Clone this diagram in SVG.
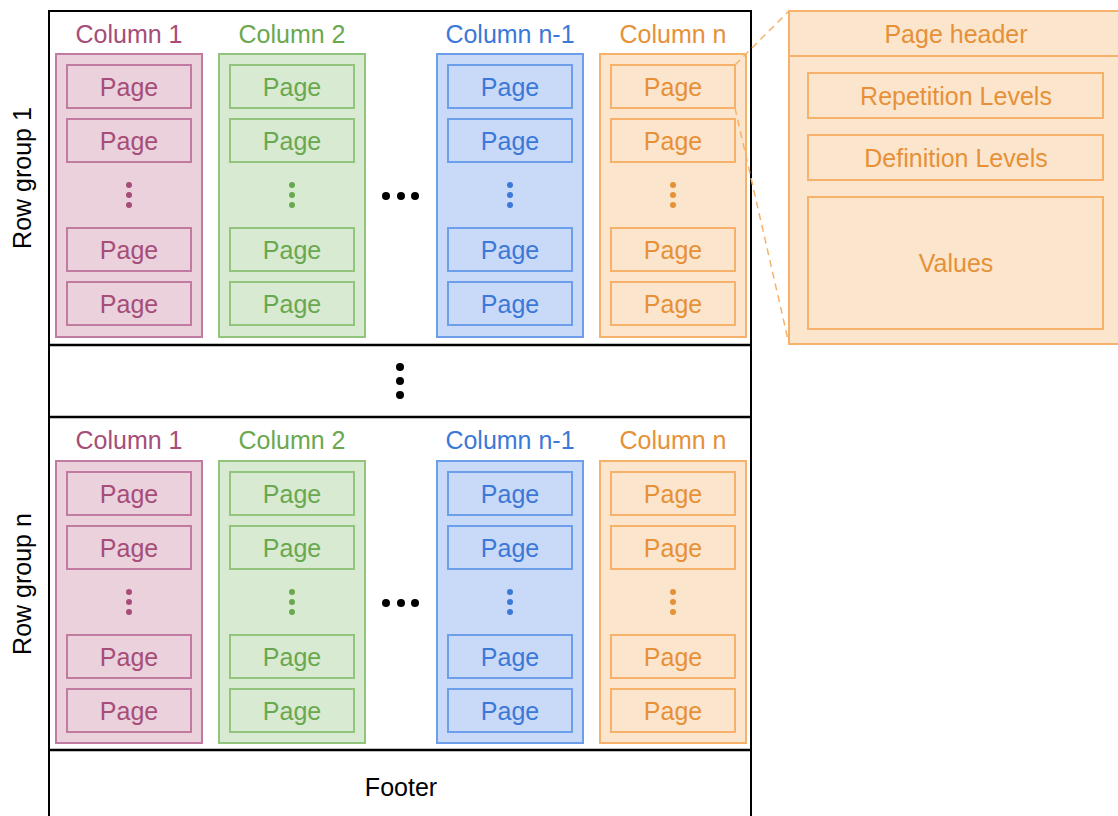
<svg xmlns="http://www.w3.org/2000/svg" width="1118" height="816" viewBox="0 0 1118 816">
  <style>
    text { font-family: "Liberation Sans", Arial, sans-serif; font-size: 25px; text-anchor: middle; }
    .frame { fill: #ffffff; stroke: #000000; stroke-width: 2; }
    .sep { stroke: #000000; stroke-width: 2.5; }
    .blk { fill: #000000; }
    .c1 .col, .c1 .pg { fill: #ead1dc; stroke: #c27ba0; stroke-width: 2; }
    .c1 text, .c1 circle { fill: #a64d79; }
    .c2 .col, .c2 .pg { fill: #d9ead3; stroke: #93c47d; stroke-width: 2; }
    .c2 text, .c2 circle { fill: #6aa84f; }
    .c3 .col, .c3 .pg { fill: #c9daf8; stroke: #6d9eeb; stroke-width: 2; }
    .c3 text, .c3 circle { fill: #3c78d8; }
    .c4 .col, .c4 .pg, .detail rect { fill: #fce5cd; stroke: #f6b26b; stroke-width: 2; }
    .c4 text, .c4 circle, .detail text { fill: #e69138; }
    .detail line { stroke: #f6b26b; stroke-width: 2; }
    .zoom { stroke: #f6b26b; stroke-width: 1.5; stroke-dasharray: 7 5; fill: none; }
  </style>

  <!-- file frame and section separators -->
  <g id="file">
    <rect class="frame" x="49" y="11" width="702" height="820"/>
    <line class="sep" x1="49" y1="345" x2="751" y2="345"/>
    <line class="sep" x1="49" y1="417" x2="751" y2="417"/>
    <line class="sep" x1="49" y1="750" x2="751" y2="750"/>
  </g>

  <!-- row group 1 -->
  <g id="rowgroup-1">
    <text class="blk" transform="translate(31 178) rotate(-90)">Row group 1</text>
    <g id="rg1-col1" class="c1">
      <text x="129" y="43">Column 1</text>
      <rect class="col" x="56" y="54" width="146" height="283"/>
      <rect class="pg" x="67" y="65" width="124" height="43"/><text x="129" y="96">Page</text>
      <rect class="pg" x="67" y="119" width="124" height="43"/><text x="129" y="150">Page</text>
      <circle cx="129" cy="185" r="3"/><circle cx="129" cy="195" r="3"/><circle cx="129" cy="205" r="3"/>
      <rect class="pg" x="67" y="228" width="124" height="43"/><text x="129" y="259">Page</text>
      <rect class="pg" x="67" y="282" width="124" height="43"/><text x="129" y="313">Page</text>
    </g>
    <g id="rg1-col2" class="c2">
      <text x="292" y="43">Column 2</text>
      <rect class="col" x="219" y="54" width="146" height="283"/>
      <rect class="pg" x="230" y="65" width="124" height="43"/><text x="292" y="96">Page</text>
      <rect class="pg" x="230" y="119" width="124" height="43"/><text x="292" y="150">Page</text>
      <circle cx="292" cy="185" r="3"/><circle cx="292" cy="195" r="3"/><circle cx="292" cy="205" r="3"/>
      <rect class="pg" x="230" y="228" width="124" height="43"/><text x="292" y="259">Page</text>
      <rect class="pg" x="230" y="282" width="124" height="43"/><text x="292" y="313">Page</text>
    </g>
    <g class="blk">
      <circle cx="386" cy="196" r="4"/><circle cx="401" cy="196" r="4"/><circle cx="415" cy="196" r="4"/>
    </g>
    <g id="rg1-coln1" class="c3">
      <text x="510" y="43">Column n-1</text>
      <rect class="col" x="437" y="54" width="146" height="283"/>
      <rect class="pg" x="448" y="65" width="124" height="43"/><text x="510" y="96">Page</text>
      <rect class="pg" x="448" y="119" width="124" height="43"/><text x="510" y="150">Page</text>
      <circle cx="510" cy="185" r="3"/><circle cx="510" cy="195" r="3"/><circle cx="510" cy="205" r="3"/>
      <rect class="pg" x="448" y="228" width="124" height="43"/><text x="510" y="259">Page</text>
      <rect class="pg" x="448" y="282" width="124" height="43"/><text x="510" y="313">Page</text>
    </g>
    <g id="rg1-coln" class="c4">
      <text x="673" y="43">Column n</text>
      <rect class="col" x="600" y="54" width="146" height="283"/>
      <rect class="pg" x="611" y="65" width="124" height="43"/><text x="673" y="96">Page</text>
      <rect class="pg" x="611" y="119" width="124" height="43"/><text x="673" y="150">Page</text>
      <circle cx="673" cy="185" r="3"/><circle cx="673" cy="195" r="3"/><circle cx="673" cy="205" r="3"/>
      <rect class="pg" x="611" y="228" width="124" height="43"/><text x="673" y="259">Page</text>
      <rect class="pg" x="611" y="282" width="124" height="43"/><text x="673" y="313">Page</text>
    </g>
  </g>

  <!-- elided row groups -->
  <g id="more-rowgroups" class="blk">
    <circle cx="400" cy="367" r="4"/><circle cx="400" cy="381" r="4"/><circle cx="400" cy="395" r="4"/>
  </g>

  <!-- row group n -->
  <g id="rowgroup-n">
    <text class="blk" transform="translate(31 584) rotate(-90)">Row group n</text>
    <g id="rgn-col1" class="c1">
      <text x="129" y="449">Column 1</text>
      <rect class="col" x="56" y="461" width="146" height="282"/>
      <rect class="pg" x="67" y="472" width="124" height="43"/><text x="129" y="503">Page</text>
      <rect class="pg" x="67" y="526" width="124" height="43"/><text x="129" y="557">Page</text>
      <circle cx="129" cy="592" r="3"/><circle cx="129" cy="602" r="3"/><circle cx="129" cy="612" r="3"/>
      <rect class="pg" x="67" y="635" width="124" height="43"/><text x="129" y="666">Page</text>
      <rect class="pg" x="67" y="689" width="124" height="43"/><text x="129" y="720">Page</text>
    </g>
    <g id="rgn-col2" class="c2">
      <text x="292" y="449">Column 2</text>
      <rect class="col" x="219" y="461" width="146" height="282"/>
      <rect class="pg" x="230" y="472" width="124" height="43"/><text x="292" y="503">Page</text>
      <rect class="pg" x="230" y="526" width="124" height="43"/><text x="292" y="557">Page</text>
      <circle cx="292" cy="592" r="3"/><circle cx="292" cy="602" r="3"/><circle cx="292" cy="612" r="3"/>
      <rect class="pg" x="230" y="635" width="124" height="43"/><text x="292" y="666">Page</text>
      <rect class="pg" x="230" y="689" width="124" height="43"/><text x="292" y="720">Page</text>
    </g>
    <g class="blk">
      <circle cx="386" cy="603" r="4"/><circle cx="401" cy="603" r="4"/><circle cx="415" cy="603" r="4"/>
    </g>
    <g id="rgn-coln1" class="c3">
      <text x="510" y="449">Column n-1</text>
      <rect class="col" x="437" y="461" width="146" height="282"/>
      <rect class="pg" x="448" y="472" width="124" height="43"/><text x="510" y="503">Page</text>
      <rect class="pg" x="448" y="526" width="124" height="43"/><text x="510" y="557">Page</text>
      <circle cx="510" cy="592" r="3"/><circle cx="510" cy="602" r="3"/><circle cx="510" cy="612" r="3"/>
      <rect class="pg" x="448" y="635" width="124" height="43"/><text x="510" y="666">Page</text>
      <rect class="pg" x="448" y="689" width="124" height="43"/><text x="510" y="720">Page</text>
    </g>
    <g id="rgn-coln" class="c4">
      <text x="673" y="449">Column n</text>
      <rect class="col" x="600" y="461" width="146" height="282"/>
      <rect class="pg" x="611" y="472" width="124" height="43"/><text x="673" y="503">Page</text>
      <rect class="pg" x="611" y="526" width="124" height="43"/><text x="673" y="557">Page</text>
      <circle cx="673" cy="592" r="3"/><circle cx="673" cy="602" r="3"/><circle cx="673" cy="612" r="3"/>
      <rect class="pg" x="611" y="635" width="124" height="43"/><text x="673" y="666">Page</text>
      <rect class="pg" x="611" y="689" width="124" height="43"/><text x="673" y="720">Page</text>
    </g>
  </g>

  <g id="footer">
    <text class="blk" x="401" y="796">Footer</text>
  </g>

  <!-- expanded view of one page -->
  <g id="page-detail" class="detail">
    <rect x="789" y="11" width="340" height="333"/>
    <line x1="789" y1="56" x2="1118" y2="56"/>
    <text x="956" y="43">Page header</text>
    <rect x="808" y="73" width="295" height="45"/>
    <text x="956" y="105">Repetition Levels</text>
    <rect x="808" y="135" width="295" height="45"/>
    <text x="956" y="167">Definition Levels</text>
    <rect x="808" y="197" width="295" height="132"/>
    <text x="956" y="272">Values</text>
  </g>

  <!-- zoom guides from the page to its expanded view -->
  <g id="connectors">
    <line class="zoom" x1="735" y1="65" x2="789" y2="11"/>
    <line class="zoom" x1="735" y1="108" x2="789" y2="344"/>
  </g>
</svg>
